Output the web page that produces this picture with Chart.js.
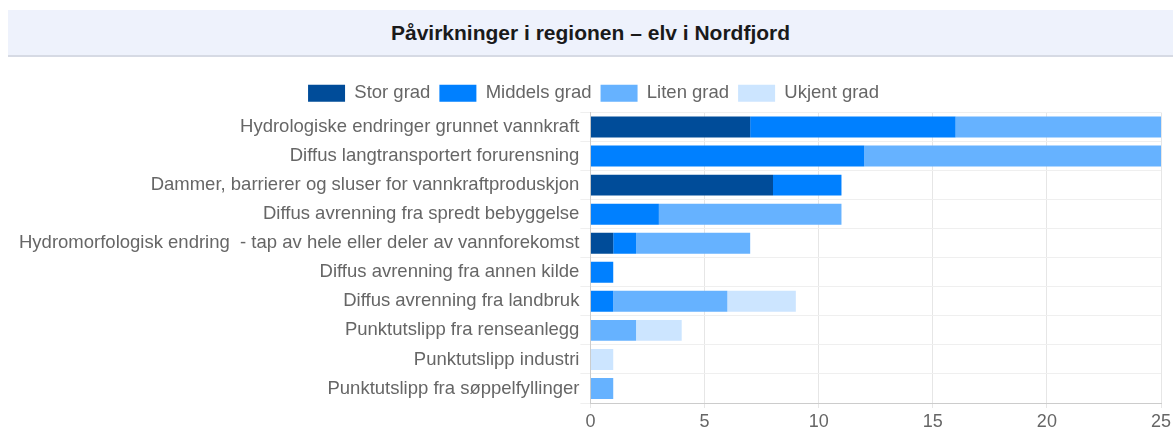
<!DOCTYPE html>
<html>
<head>
<meta charset="utf-8">
<script src="https://cdn.jsdelivr.net/npm/chart.js@4.4.1/dist/chart.umd.min.js"></script>
<style>
  html, body { margin: 0; padding: 0; background: #fff; overflow: hidden; }
  body { width: 1173px; height: 430px; font-family: "Liberation Sans", Arial, sans-serif; }
  .title-bar {
    position: absolute; left: 8px; top: 10px; width: 1165px; height: 45px;
    background: #eef2fc; border-bottom: 2px solid #d6dae4;
    display: flex; align-items: center; justify-content: center;
    font-size: 21px; font-weight: bold; color: #1a1a1a;
  }
  .chart-box { position: absolute; left: 0; top: 75px; width: 1173px; height: 355px; }
</style>
</head>
<body>
<div class="title-bar">Påvirkninger i regionen – elv i Nordfjord</div>
<div class="chart-box"><canvas id="chart"></canvas></div>
<script>
const categories = [
  'Hydrologiske endringer grunnet vannkraft',
  'Diffus langtransportert forurensning',
  'Dammer, barrierer og sluser for vannkraftproduskjon',
  'Diffus avrenning fra spredt bebyggelse',
  'Hydromorfologisk endring  - tap av hele eller deler av vannforekomst',
  'Diffus avrenning fra annen kilde',
  'Diffus avrenning fra landbruk',
  'Punktutslipp fra renseanlegg',
  'Punktutslipp industri',
  'Punktutslipp fra søppelfyllinger'
];
const storGrad    = [7, 0, 8, 0, 1, 0, 0, 0, 0, 0];
const middelsGrad = [9, 12, 3, 3, 1, 1, 1, 0, 0, 0];
const litenGrad   = [9, 13, 0, 8, 5, 0, 5, 2, 0, 1];
const ukjentGrad  = [0, 0, 0, 0, 0, 0, 3, 2, 1, 0];
const xTicks = [0, 5, 10, 15, 20, 25];

const COLORS = { stor: '#004c99', middels: '#0080ff', liten: '#66b2ff', ukjent: '#cce5ff' };
const FAMILY = '"Liberation Sans", Arial, sans-serif';
const FONT = { family: FAMILY, size: 18 };

const ds = (label, data, color) => ({
  label, data, backgroundColor: color, borderColor: color, borderWidth: 0
});

new Chart(document.getElementById('chart'), {
  type: 'bar',
  data: {
    labels: categories,
    datasets: [
      ds('Stor grad', storGrad, COLORS.stor),
      ds('Middels grad', middelsGrad, COLORS.middels),
      ds('Liten grad', litenGrad, COLORS.liten),
      ds('Ukjent grad', ukjentGrad, COLORS.ukjent)
    ]
  },
  options: {
    indexAxis: 'y',
    responsive: true, maintainAspectRatio: false, animation: false,
    layout: { padding: { left: 18, right: 4, bottom: 0, top: 0 } },
    plugins: {
      legend: {
        position: 'top',
        labels: { boxWidth: 37, boxHeight: 17, padding: 9, color: '#666', font: { family: FAMILY, size: 18.5 } }
      },
      tooltip: { enabled: false }
    },
    scales: {
      x: {
        stacked: true, min: 0, max: 25,
        afterBuildTicks: axis => { axis.ticks = xTicks.map(v => ({ value: v })); },
        // keep the axis band short so labels sit low like the original
        afterFit: axis => { axis.height = 27; axis.paddingRight = 12; },
        grid: { color: '#e6e6e6', tickLength: 5 },
        border: { color: '#cccccc' },
        ticks: { color: '#666', font: FONT, padding: 3 }
      },
      y: {
        stacked: true,
        grid: { color: '#efefef', tickLength: 10 },
        border: { color: '#cccccc' },
        ticks: { color: '#666', font: { family: FAMILY, size: 18.5 }, autoSkip: false, padding: 1 }
      }
    }
  }
});
</script>
</body>
</html>
